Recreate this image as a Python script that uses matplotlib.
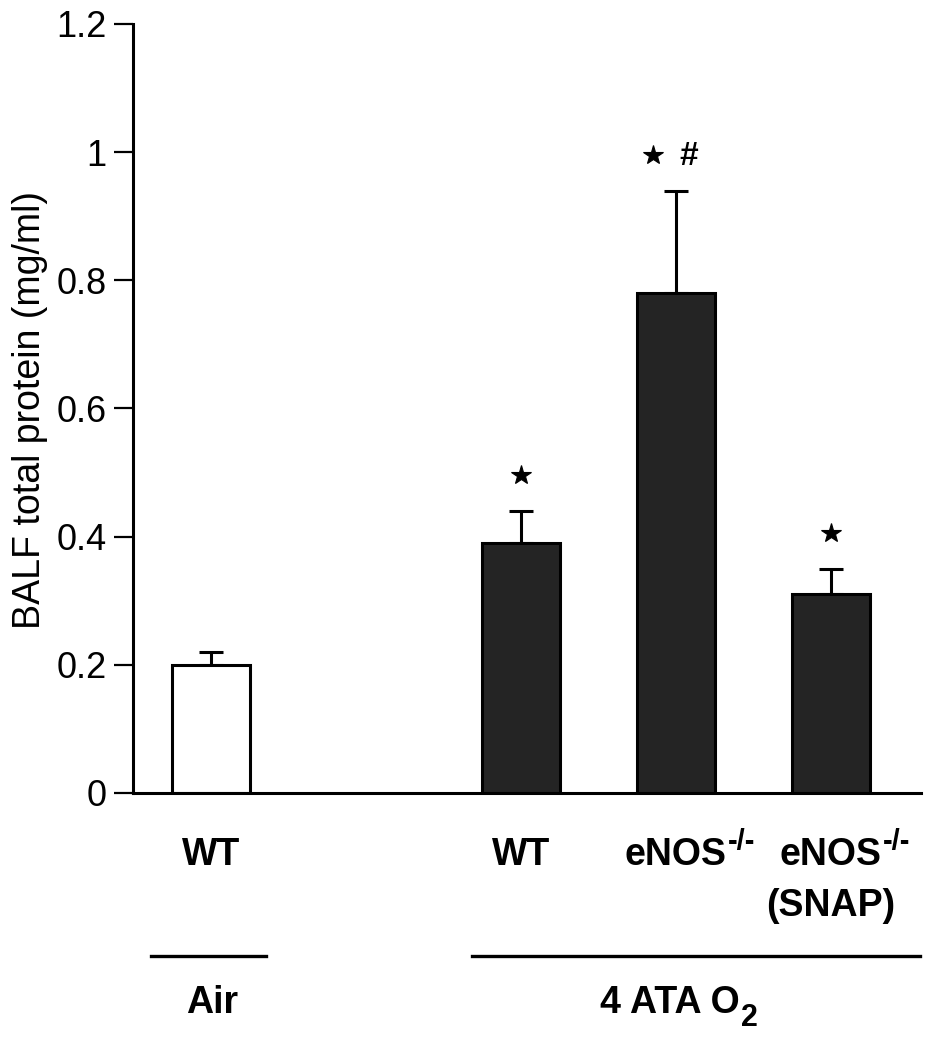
import numpy as np
import matplotlib
matplotlib.use("Agg")
from matplotlib import pyplot as plt

plt.rcParams['font.family'] = ['Liberation Sans', 'DejaVu Sans']

# data
groups = ["WT", "WT", "eNOS", "eNOS"]
group_sup = ["", "", "-/-", "-/-"]
group_line2 = ["", "", "", "(SNAP)"]
x_pos = [0, 2, 3, 4]
means = [0.20, 0.39, 0.78, 0.31]
sems = [0.02, 0.05, 0.16, 0.04]
bar_colors = ["white", "#242424", "#242424", "#242424"]
stars = [False, True, True, True]
hashes = [False, False, True, False]
y_ticks = [0, 0.2, 0.4, 0.6, 0.8, 1, 1.2]
y_tick_labels = ["0", "0.2", "0.4", "0.6", "0.8", "1", "1.2"]
conditions = ["Air", "4 ATA O"]
condition_subs = ["", "2"]
condition_spans = [(-0.39, 0.355), (1.685, 4.575)]
condition_centers = [0.01, 2.96]

LABEL_SIZE = 27

fig = plt.figure(figsize=(9.3, 10.5), dpi=100)
ax = fig.add_axes([0.143, 0.2448, 0.847, 0.7324])

ax.bar(x_pos, means, width=0.5, color=bar_colors, edgecolor="black",
       linewidth=2.2, zorder=2)
ax.errorbar(x_pos, means, yerr=[np.zeros(len(sems)), sems], fmt="none",
            ecolor="black", elinewidth=2.2, capsize=8.5, capthick=2.2, zorder=1)

# significance marks above the error bars
for x, m, s, st, hs in zip(x_pos, means, sems, stars, hashes):
    top = m + s
    if st:
        sx = x - 0.15 if hs else x
        ax.plot(sx, top + 0.056, marker="*", markersize=15, color="black",
                markeredgewidth=0.8, linestyle="none", clip_on=False)
    if hs:
        ax.text(x + 0.085, top + 0.053, "#", ha="center", va="center",
                fontsize=24, fontweight="bold")

ax.set_xlim(-0.503, 4.58)
ax.set_ylim(0, 1.2)
ax.set_yticks(y_ticks)
ax.set_yticklabels(y_tick_labels)
ax.set_xticks([])
ax.tick_params(axis="y", direction="out", length=14, width=1.6, pad=5,
               labelsize=26)
for side in ["top", "right"]:
    ax.spines[side].set_visible(False)
ax.spines["left"].set_linewidth(2.2)
ax.spines["bottom"].set_linewidth(2.2)

trans = ax.get_xaxis_transform()
for x, lab, sup, lab2 in zip(x_pos, groups, group_sup, group_line2):
    t = ax.text(x, -0.0936, lab, transform=trans, ha="center", va="baseline",
                fontsize=LABEL_SIZE, fontweight="bold", clip_on=False)
    if sup:
        ax.annotate(sup, xy=(1, 1), xycoords=t, xytext=(1, -4),
                    textcoords="offset points", ha="left", va="center",
                    fontsize=21, fontweight="bold")
    if lab2:
        ax.text(x, -0.16, lab2, transform=trans, ha="center", va="baseline",
                fontsize=LABEL_SIZE, fontweight="bold", clip_on=False)

for (x0, x1), xc, lab, sub in zip(condition_spans, condition_centers,
                                  conditions, condition_subs):
    ax.plot([x0, x1], [-0.212, -0.212], transform=trans, color="black",
            linewidth=2.4, clip_on=False)
    t = ax.text(xc, -0.286, lab, transform=trans, ha="center", va="baseline",
                fontsize=LABEL_SIZE, fontweight="bold", clip_on=False)
    if sub:
        ax.annotate(sub, xy=(1, 0), xycoords=t, xytext=(1, 2),
                    textcoords="offset points", ha="left", va="center",
                    fontsize=22, fontweight="bold")

fig.text(30 / 930, 1 - 410 / 1050, "BALF total protein (mg/ml)", rotation=90,
         ha="center", va="center", fontsize=27)

fig.savefig("out.png", dpi=100)
